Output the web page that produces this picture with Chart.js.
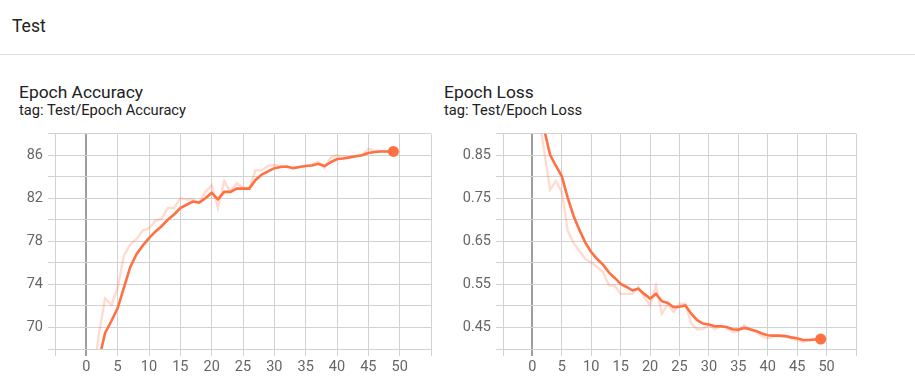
<!DOCTYPE html>
<html>
<head>
<meta charset="utf-8">
<script src="https://cdn.jsdelivr.net/npm/chart.js@4/dist/chart.umd.min.js"></script>
<style>
  html, body { margin: 0; padding: 0; background: #fff; }
  body { width: 915px; height: 385px; position: relative; overflow: hidden; font-family: Roboto, 'Noto Sans', sans-serif; color: #212121; }
  .txt { position: absolute; line-height: 1; white-space: nowrap; }
  .group { left: 12px; top: 18px; font-size: 17.5px; }
  .sep { position: absolute; left: 0; top: 54px; width: 915px; height: 1px; background: #e0e0e0; }
  .title { font-size: 17.4px; top: 84px; }
  .tag { font-size: 14.7px; top: 103px; }
  .wrap { position: absolute; top: 120px; height: 265px; }
  .wrap canvas { display: block; }
</style>
</head>
<body>
<div class="txt group">Test</div>
<div class="sep"></div>

<div class="txt title" style="left:19px;">Epoch Accuracy</div>
<div class="txt tag" style="left:19px;">tag: Test/Epoch Accuracy</div>
<div class="txt title" style="left:444px;">Epoch Loss</div>
<div class="txt tag" style="left:444px;">tag: Test/Epoch Loss</div>

<div class="wrap" style="left:0; width:440px;"><canvas id="acc" width="440" height="265"></canvas></div>
<div class="wrap" style="left:440px; width:475px;"><canvas id="loss" width="475" height="265"></canvas></div>

<script>
// steps (epochs)
const steps = [0, 1, 2, 3, 4, 5, 6, 7, 8, 9, 10, 11, 12, 13, 14, 15, 16, 17, 18, 19,
  20, 21, 22, 23, 24, 25, 26, 27, 28, 29, 30, 31, 32, 33, 34, 35, 36, 37, 38, 39,
  40, 41, 42, 43, 44, 45, 46, 47, 48, 49];

// x tick positions (only 0..50 get a label)
const xTicks = [-5, 0, 5, 10, 15, 20, 25, 30, 35, 40, 45, 50, 55];

// Test/Epoch Accuracy - raw (faint) and smoothed (bold)
const accRaw = [58.0, 64.5, 69.4, 72.7, 72.1, 73.7, 76.7, 77.7, 78.2, 79.0,
  79.2, 79.9, 80.1, 81.1, 81.1, 82.0, 81.9, 81.9, 81.6, 82.6,
  83.2, 81.1, 83.6, 82.6, 83.4, 83.0, 82.9, 84.6, 84.6, 85.0,
  85.1, 85.0, 84.9, 84.8, 84.9, 85.0, 85.1, 85.4, 84.8, 85.8,
  86.0, 85.8, 85.8, 85.9, 86.0, 86.6, 86.4, 86.4, 86.3, 86.3];
const accSmooth = [58.0, 61.0, 67.0, 69.5, 70.6, 71.8, 73.7, 75.6, 76.8, 77.6,
  78.3, 78.9, 79.4, 80.0, 80.5, 81.1, 81.4, 81.7, 81.6, 82.0,
  82.5, 81.9, 82.6, 82.6, 82.9, 82.9, 82.9, 83.7, 84.2, 84.5,
  84.8, 84.9, 84.95, 84.8, 84.9, 85.0, 85.05, 85.2, 85.0, 85.35,
  85.65, 85.7, 85.8, 85.9, 86.0, 86.2, 86.3, 86.35, 86.35, 86.35];

// Test/Epoch Loss - raw (faint) and smoothed (bold)
const lossRaw = [1.25, 0.95, 0.86, 0.77, 0.79, 0.765, 0.675, 0.646, 0.628, 0.609,
  0.601, 0.590, 0.578, 0.548, 0.547, 0.528, 0.528, 0.528, 0.544, 0.520,
  0.501, 0.547, 0.482, 0.505, 0.486, 0.505, 0.505, 0.459, 0.446, 0.447,
  0.455, 0.446, 0.453, 0.450, 0.440, 0.441, 0.455, 0.445, 0.440, 0.430,
  0.425, 0.430, 0.430, 0.429, 0.425, 0.421, 0.417, 0.421, 0.422, 0.423];
const lossSmooth = [1.25, 1.06, 0.91, 0.851, 0.825, 0.801, 0.751, 0.709, 0.676, 0.647,
  0.625, 0.609, 0.596, 0.578, 0.565, 0.551, 0.544, 0.536, 0.540, 0.528,
  0.517, 0.528, 0.511, 0.507, 0.497, 0.498, 0.501, 0.482, 0.467, 0.459,
  0.457, 0.453, 0.453, 0.451, 0.446, 0.445, 0.449, 0.446, 0.442, 0.436,
  0.432, 0.431, 0.431, 0.430, 0.427, 0.425, 0.421, 0.421, 0.422, 0.423];

// axis ranges
const accY = { min: 68, max: 88, step: 2 };
const lossY = { min: 0.40, max: 0.90, step: 0.05 };

const ORANGE = '#ff7043';
const FAINT = 'rgba(255,112,67,0.25)';
const GRID = '#d2d2d2';
const ZERO = '#9e9e9e';
const TICK_TXT = '#666';

function pts(ys) { return steps.map((s, i) => ({ x: s, y: ys[i] })); }

function makeChart(id, raw, smooth, yr, yLabel, yWidth, rightPad) {
  const last = steps.length - 1;
  return new Chart(document.getElementById(id).getContext('2d'), {
    type: 'line',
    data: {
      datasets: [
        { data: pts(raw), borderColor: FAINT, borderWidth: 2.4, pointRadius: 0, clip: 0, tension: 0 },
        {
          data: pts(smooth), borderColor: ORANGE, backgroundColor: ORANGE, borderWidth: 2.6,
          pointRadius: c => c.dataIndex === last ? 5.5 : 0, pointBorderWidth: 0, clip: 0, tension: 0,
        },
      ],
    },
    options: {
      responsive: false, animation: false, events: [],
      layout: { padding: { top: 12, right: rightPad, left: 0, bottom: 0 } },
      plugins: { legend: { display: false }, tooltip: { enabled: false } },
      scales: {
        x: {
          type: 'linear', min: xTicks[0], max: xTicks[xTicks.length - 1],
          afterFit: s => { s.height = 36; },
          afterBuildTicks: s => { s.ticks = xTicks.map(v => ({ value: v })); },
          border: { display: false },
          grid: {
            color: c => c.tick && c.tick.value === 0 ? ZERO : GRID,
            lineWidth: c => c.tick && c.tick.value === 0 ? 2 : 1,
            tickLength: 7,
          },
          ticks: {
            color: TICK_TXT, font: { family: 'Roboto', size: 14.5 }, padding: 3, maxRotation: 0, autoSkip: false,
            callback: v => (v < 0 || v > 50) ? '' : String(v),
          },
        },
        y: {
          min: yr.min, max: yr.max,
          afterFit: s => { s.width = yWidth; },
          border: { display: false },
          grid: { color: GRID, tickLength: 7 },
          ticks: {
            stepSize: yr.step, color: TICK_TXT, font: { family: 'Roboto', size: 14.5 }, padding: 5, autoSkip: false,
            callback: yLabel,
          },
        },
      },
    },
  });
}

makeChart('acc', accRaw, accSmooth, accY,
  v => ((Math.round(v) - 70) % 4 === 0 && Math.round(v) >= 70 && Math.round(v) <= 86) ? String(Math.round(v)) : '',
  55, 9);
makeChart('loss', lossRaw, lossSmooth, lossY,
  v => (Math.round(v * 100) % 10 === 5) ? v.toFixed(2) : '',
  63, 59);
</script>
</body>
</html>
